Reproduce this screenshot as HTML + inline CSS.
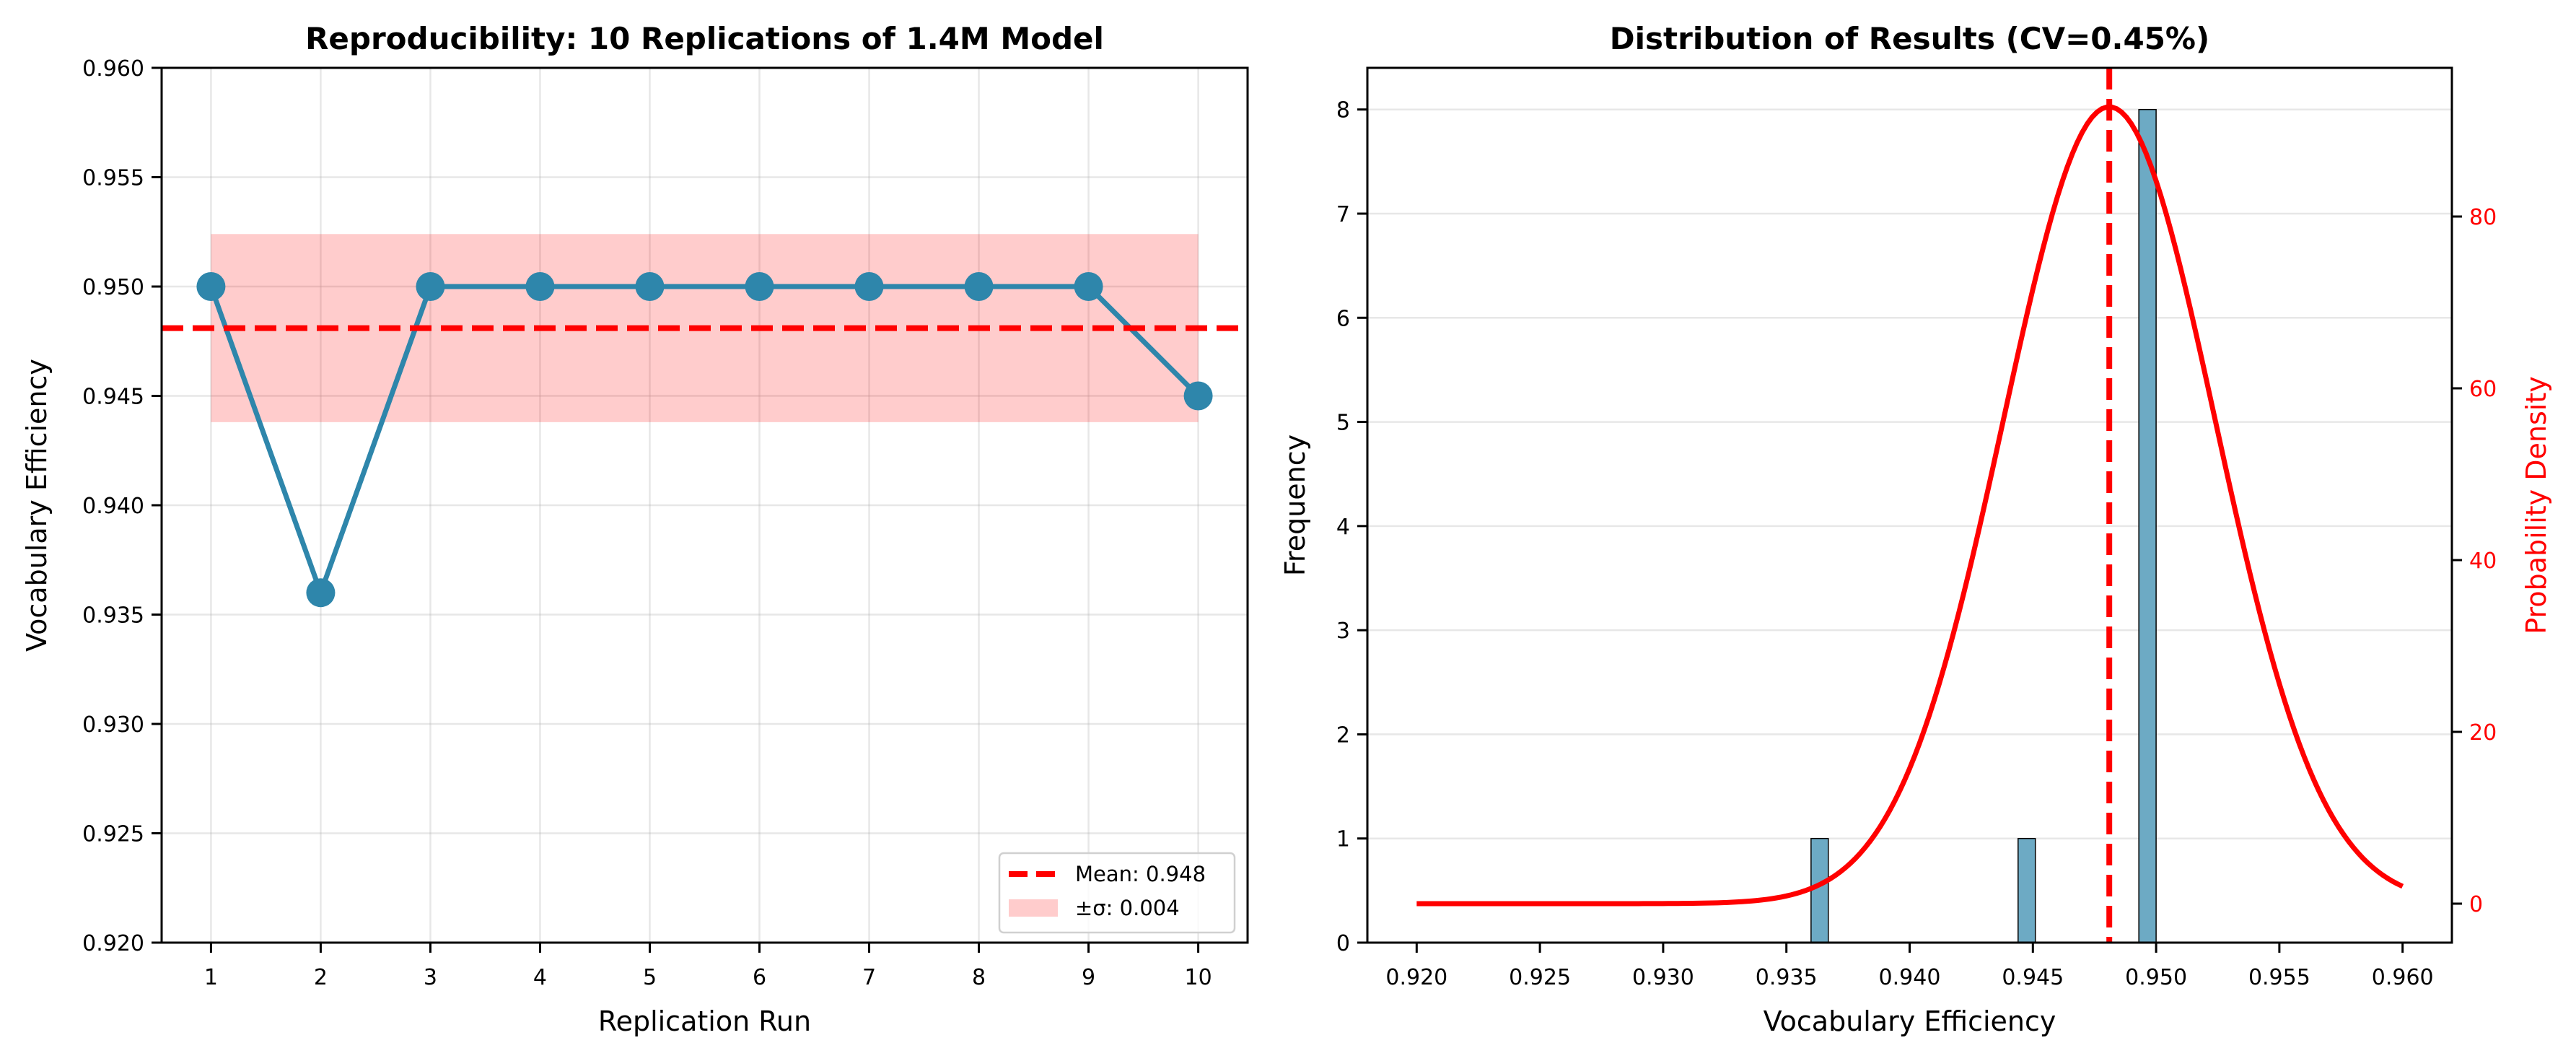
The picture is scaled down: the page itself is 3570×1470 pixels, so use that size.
<!DOCTYPE html>
<html><head><meta charset="utf-8">
<style>
html,body{margin:0;padding:0;background:#fff}
svg{display:block;font-family:"DejaVu Sans","Liberation Sans",sans-serif}
</style></head>
<body>
<svg id="fig" width="3570" height="1470" viewBox="0 0 3570 1470" xmlns="http://www.w3.org/2000/svg">
<rect width="3570" height="1470" fill="#fff"/>
<g id="left"></g>
<g id="right"></g>
</svg>
<script>
const runs = [1,2,3,4,5,6,7,8,9,10];
const efficiency = [0.950,0.936,0.950,0.950,0.950,0.950,0.950,0.950,0.950,0.945];
const leftYTicks = [0.920,0.925,0.930,0.935,0.940,0.945,0.950,0.955,0.960];
const rightXTicks = [0.920,0.925,0.930,0.935,0.940,0.945,0.950,0.955,0.960];
const freqTicks = [0,1,2,3,4,5,6,7,8];
const densityTicks = [0,20,40,60,80];
const histBins = 20;

const NS="http://www.w3.org/2000/svg";
function mk(parent,tag,attrs,text){const e=document.createElementNS(NS,tag);for(const k in attrs)e.setAttribute(k,attrs[k]);if(text!==undefined)e.textContent=text;parent.appendChild(e);return e;}

const n=efficiency.length;
const mean=efficiency.reduce((a,b)=>a+b,0)/n;
const std=Math.sqrt(efficiency.reduce((a,b)=>a+(b-mean)*(b-mean),0)/n);
const cv=std/mean*100;

/* ---------- LEFT ---------- */
const L=document.getElementById('left');
const lx0=224,lx1=1729,ly0=94,ly1=1306;
const xMin=runs[0]-(runs[n-1]-runs[0])*0.05, xMax=runs[n-1]+(runs[n-1]-runs[0])*0.05;
const lX=v=>lx0+(v-xMin)/(xMax-xMin)*(lx1-lx0);
const lY=v=>ly1-(v-0.92)/(0.96-0.92)*(ly1-ly0);
let e;
runs.forEach(r=>{e=mk(L,'line',{x1:lX(r),x2:lX(r),y1:ly0,y2:ly1,stroke:'#b0b0b0','stroke-opacity':0.3,'stroke-width':2.5});
});
leftYTicks.forEach(t=>{e=mk(L,'line',{x1:lx0,x2:lx1,y1:lY(t),y2:lY(t),stroke:'#b0b0b0','stroke-opacity':0.3,'stroke-width':2.5});
});
// sigma band
e=mk(L,'rect',{x:lX(runs[0]),y:lY(mean+std),width:lX(runs[n-1])-lX(runs[0]),height:lY(mean-std)-lY(mean+std),fill:'#ff0000','fill-opacity':0.2});

// line
e=mk(L,'polyline',{points:runs.map((r,i)=>lX(r)+','+lY(efficiency[i])).join(' '),fill:'none',stroke:'#2E86AB','stroke-width':7,'stroke-linejoin':'round'});

// mean line
e=mk(L,'line',{x1:lx0,x2:lx1,y1:lY(mean),y2:lY(mean),stroke:'#ff0000','stroke-width':8,'stroke-dasharray':'30 13'});

runs.forEach((r,i)=>{e=mk(L,'circle',{cx:lX(r),cy:lY(efficiency[i]),r:20,fill:'#2E86AB'});
});
e=mk(L,'rect',{x:lx0,y:ly0,width:lx1-lx0,height:ly1-ly0,fill:'none',stroke:'#000','stroke-width':3});

leftYTicks.forEach(t=>{mk(L,'line',{x1:lx0-14,x2:lx0,y1:lY(t),y2:lY(t),stroke:'#000','stroke-width':3});
e=mk(L,'text',{x:lx0-24,y:lY(t)+11,'text-anchor':'end','font-size':30},t.toFixed(3));
});
runs.forEach(r=>{mk(L,'line',{x1:lX(r),x2:lX(r),y1:ly1,y2:ly1+14,stroke:'#000','stroke-width':3});
e=mk(L,'text',{x:lX(r),y:ly1+58,'text-anchor':'middle','font-size':30},String(r));
});
e=mk(L,'text',{x:(lx0+lx1)/2,y:68,'text-anchor':'middle','font-size':42,'font-weight':'bold'},'Reproducibility: 10 Replications of 1.4M Model');

e=mk(L,'text',{x:(lx0+lx1)/2,y:1428,'text-anchor':'middle','font-size':38},'Replication Run');

e=mk(L,'text',{x:0,y:0,'text-anchor':'middle','font-size':38,transform:`translate(64,${(ly0+ly1)/2}) rotate(-90)`},'Vocabulary Efficiency');

// legend
const lg=mk(L,'g',{});
mk(lg,'rect',{x:1385,y:1182,width:326,height:110,rx:6,fill:'#fff','fill-opacity':0.8,stroke:'#d0d0d0','stroke-width':2.5});
e=mk(lg,'line',{x1:1398,x2:1466,y1:1211,y2:1211,stroke:'#ff0000','stroke-width':8,'stroke-dasharray':'26 12'});

e=mk(lg,'text',{x:1490,y:1221,'font-size':29},'Mean: '+mean.toFixed(3));

e=mk(lg,'rect',{x:1398,y:1246,width:68,height:24,fill:'#ff0000','fill-opacity':0.2});

e=mk(lg,'text',{x:1490,y:1268,'font-size':29},'±σ: '+std.toFixed(3));


/* ---------- RIGHT ---------- */
const R=document.getElementById('right');
const rx0=1895,rx1=3398,ry0=94,ry1=1306;
const rxMin=0.918,rxMax=0.962;
const rX=v=>rx0+(v-rxMin)/(rxMax-rxMin)*(rx1-rx0);
const fY=v=>ry1-v/8.4*(ry1-ry0);
const dY=v=>1252-v*(1252-300)/80;
freqTicks.forEach(t=>{e=mk(R,'line',{x1:rx0,x2:rx1,y1:fY(t),y2:fY(t),stroke:'#b0b0b0','stroke-opacity':0.3,'stroke-width':2.5});
});
// histogram
const hmin=Math.min(...efficiency),hmax=Math.max(...efficiency),bw=(hmax-hmin)/histBins;
const counts=new Array(histBins).fill(0);
efficiency.forEach(v=>{let k=Math.floor((v-hmin)/bw);if(k>=histBins)k=histBins-1;counts[k]++;});
counts.forEach((c,k)=>{if(!c)return;const a=hmin+k*bw;
e=mk(R,'rect',{x:rX(a),y:fY(c),width:rX(a+bw)-rX(a),height:fY(0)-fY(c),fill:'#6DAAC4',stroke:'#000','stroke-width':1.5});
});
// pdf curve
const pts=[];for(let i=0;i<=200;i++){const x=0.92+0.04*i/200;const p=Math.exp(-0.5*Math.pow((x-mean)/std,2))/(std*Math.sqrt(2*Math.PI));pts.push(rX(x)+','+dY(p));}
e=mk(R,'polyline',{points:pts.join(' '),fill:'none',stroke:'#ff0000','stroke-width':7,'stroke-linejoin':'round'});

e=mk(R,'line',{x1:rX(mean),x2:rX(mean),y1:ry0,y2:ry1,stroke:'#ff0000','stroke-width':8,'stroke-dasharray':'30 13'});

e=mk(R,'rect',{x:rx0,y:ry0,width:rx1-rx0,height:ry1-ry0,fill:'none',stroke:'#000','stroke-width':3});

freqTicks.forEach(t=>{mk(R,'line',{x1:rx0-14,x2:rx0,y1:fY(t),y2:fY(t),stroke:'#000','stroke-width':3});
e=mk(R,'text',{x:rx0-24,y:fY(t)+11,'text-anchor':'end','font-size':30},String(t));
});
densityTicks.forEach(t=>{mk(R,'line',{x1:rx1,x2:rx1+14,y1:dY(t),y2:dY(t),stroke:'#000','stroke-width':3});
e=mk(R,'text',{x:rx1+24,y:dY(t)+11,'font-size':30,fill:'#ff0000'},String(t));
});
rightXTicks.forEach(t=>{mk(R,'line',{x1:rX(t),x2:rX(t),y1:ry1,y2:ry1+14,stroke:'#000','stroke-width':3});
e=mk(R,'text',{x:rX(t),y:ry1+58,'text-anchor':'middle','font-size':30},t.toFixed(3));
});
e=mk(R,'text',{x:(rx0+rx1)/2,y:68,'text-anchor':'middle','font-size':42,'font-weight':'bold'},'Distribution of Results (CV='+cv.toFixed(2)+'%)');

e=mk(R,'text',{x:(rx0+rx1)/2,y:1428,'text-anchor':'middle','font-size':38},'Vocabulary Efficiency');

e=mk(R,'text',{x:0,y:0,'text-anchor':'middle','font-size':38,transform:`translate(1808,${(ry0+ry1)/2}) rotate(-90)`},'Frequency');

e=mk(R,'text',{x:0,y:0,'text-anchor':'middle','font-size':38,fill:'#ff0000',transform:`translate(3528,${(ry0+ry1)/2}) rotate(-90)`},'Probability Density');

</script>
</body></html>
